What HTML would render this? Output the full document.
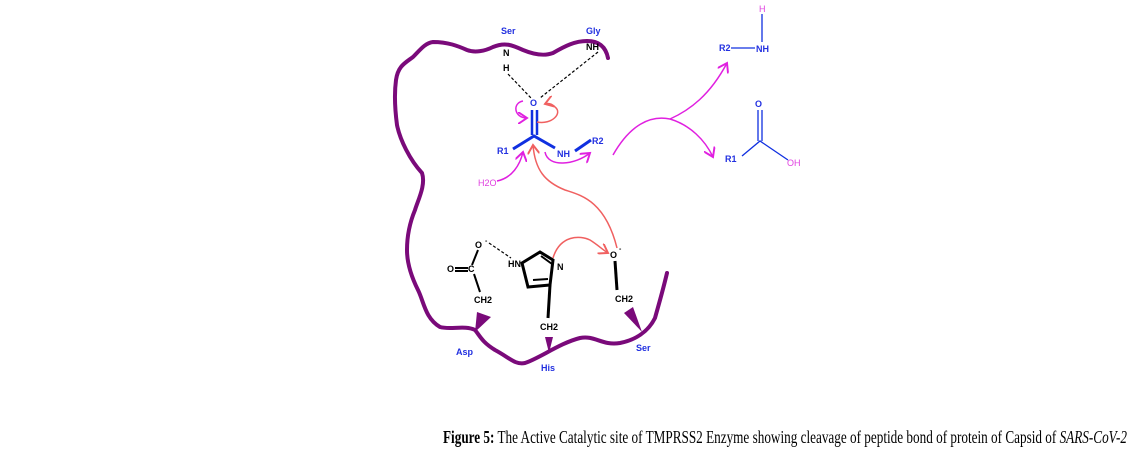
<!DOCTYPE html>
<html><head><meta charset="utf-8"><style>
html,body{margin:0;padding:0;background:#fff;}
svg{display:block;}
.b{font-family:"Liberation Sans",sans-serif;font-size:9px;font-weight:bold;fill:#2230e0;}
.k{font-family:"Liberation Sans",sans-serif;font-size:9px;font-weight:bold;fill:#000;}
.m{font-family:"Liberation Sans",sans-serif;font-size:9px;fill:#e040e0;}
</style></head><body>
<svg width="1142" height="455" viewBox="0 0 1142 455" xmlns="http://www.w3.org/2000/svg">
<defs>
<marker id="am" markerWidth="8" markerHeight="8" refX="6" refY="4" orient="auto"><path d="M0,0 L6,4 L0,8" fill="none" stroke="#e020e0" stroke-width="1.3"/></marker>
<marker id="ar" markerWidth="8" markerHeight="8" refX="6" refY="4" orient="auto"><path d="M0,0 L6,4 L0,8" fill="none" stroke="#f06060" stroke-width="1.3"/></marker>
</defs>
<path d="M608,58 C606,48 600,41 587,41 C575,41 565,46 553,53 C545,56 535,55 523,50 C512,45 505,42 493,47 C485,51 475,53 467,50 C458,46 448,42 433,42 C425,43 420,50 413,57 C405,63 398,66 396,80 C394,95 395,110 397,125 C400,140 410,160 422,173 C426,185 418,200 415,210 C410,222 407,235 407,250 C407,265 412,278 418,290 C424,302 425,318 440,327 C450,330 465,325 475,330 C480,336 482,342 495,350 C510,358 515,365 525,363 C540,358 560,343 580,338 C595,335 602,346 620,343 C635,340 648,332 655,318 C660,300 663,290 667,273" fill="none" stroke="#7a0a7a" stroke-width="4" stroke-linecap="round"/>
<path d="M477,312 L491,317 L475,332 Z" fill="#7a0a7a"/>
<path d="M545,337 L553,337 L549,353 Z" fill="#7a0a7a"/>
<path d="M624,313 L633,307 L642,332 Z" fill="#7a0a7a"/>
<text class="b" x="501" y="34">Ser</text>
<text class="b" x="586" y="34">Gly</text>
<text class="k" x="503" y="56">N</text>
<text class="k" x="503" y="71">H</text>
<text class="k" x="586" y="50">NH</text>
<path d="M508,74 L531,98 M598,52 L540,98" stroke="#000" stroke-width="1.2" stroke-dasharray="3,2" fill="none"/>
<text class="b" x="530" y="106">O</text>
<path d="M532,110 V135 M537,110 V135" stroke="#1030e0" stroke-width="2.5"/>
<path d="M513,149 L534,136 L555,148 M575,151 L591,140" stroke="#1030e0" stroke-width="3" fill="none"/>
<text class="b" x="497" y="154">R1</text>
<text class="b" x="557" y="157">NH</text>
<text class="b" x="592" y="144">R2</text>
<text class="m" x="478" y="186">H2O</text>
<path d="M497,181 C512,178 520,165 523,152" fill="none" stroke="#e020e0" stroke-width="1.5" marker-end="url(#am)"/>
<path d="M523,101 C512,103 514,118 527,118" fill="none" stroke="#e020e0" stroke-width="1.5" marker-end="url(#am)"/>
<path d="M545,152 C548,168 575,165 590,153" fill="none" stroke="#e020e0" stroke-width="1.5" marker-end="url(#am)"/>
<path d="M537,122 C552,125 563,113 555,107 C551,103 548,103 545,104" fill="none" stroke="#f06060" stroke-width="1.5" marker-end="url(#ar)"/>
<path d="M617,248 C605,200 580,195 565,190 C545,182 535,170 533,145" fill="none" stroke="#f06060" stroke-width="1.5" marker-end="url(#ar)"/>
<path d="M553,258 C560,235 580,235 590,240 C598,245 603,250 608,253" fill="none" stroke="#f06060" stroke-width="1.5" marker-end="url(#ar)"/>
<text class="k" x="475" y="248">O</text><text class="k" x="485" y="243" style="font-size:7px">-</text>
<text class="k" x="447" y="272">O</text>
<path d="M455,268 H468 M455,271 H468" stroke="#000" stroke-width="2"/>
<text class="k" x="468" y="272">C</text>
<path d="M472,265 L478,250 M474,274 L480,292" stroke="#000" stroke-width="2"/>
<text class="k" x="474" y="303">CH2</text>
<path d="M489,243 L511,258" stroke="#000" stroke-width="1.2" stroke-dasharray="3,2"/>
<text class="k" x="508" y="267">HN</text>
<path d="M522,263 L540,252 L553,260 L550,285 L528,287 Z" fill="none" stroke="#000" stroke-width="3"/>
<path d="M533,280 L548,279 M541,256 L552,264" stroke="#000" stroke-width="2"/>
<text class="k" x="557" y="270">N</text>
<path d="M550,285 L548,318" stroke="#000" stroke-width="3"/>
<text class="k" x="540" y="330">CH2</text>
<text class="k" x="610" y="258">O</text><text class="k" x="619" y="251" style="font-size:7px">-</text>
<path d="M615,261 L617,290" stroke="#000" stroke-width="3"/>
<text class="k" x="615" y="302">CH2</text>
<text class="b" x="456" y="355">Asp</text>
<text class="b" x="541" y="371">His</text>
<text class="b" x="636" y="351">Ser</text>
<path d="M613,155 C630,125 650,115 670,119 C690,110 710,95 727,63" fill="none" stroke="#e020e0" stroke-width="1.5" marker-end="url(#am)"/>
<path d="M670,119 C690,125 705,140 713,157" fill="none" stroke="#e020e0" stroke-width="1.5" marker-end="url(#am)"/>
<text class="m" x="759" y="12">H</text>
<path d="M762,14 V42 M731,48 H755" stroke="#1030e0" stroke-width="1.3"/>
<text class="b" x="719" y="51">R2</text>
<text class="b" x="756" y="52">NH</text>
<text class="b" x="755" y="107">O</text>
<path d="M758,110 V141 M762,110 V141 M742,156 L760,141 L788,160" stroke="#1030e0" stroke-width="1.3" fill="none"/>
<text class="b" x="725" y="162">R1</text>
<text class="m" x="787" y="166">OH</text>
<text x="443" y="443" textLength="684" lengthAdjust="spacingAndGlyphs" style="font-family:'Liberation Serif',serif;font-size:18px;fill:#000"><tspan font-weight="bold">Figure 5:</tspan> The Active Catalytic site of TMPRSS2 Enzyme showing cleavage of peptide bond of protein of Capsid of <tspan font-style="italic">SARS-CoV-2</tspan></text>
</svg>
</body></html>
